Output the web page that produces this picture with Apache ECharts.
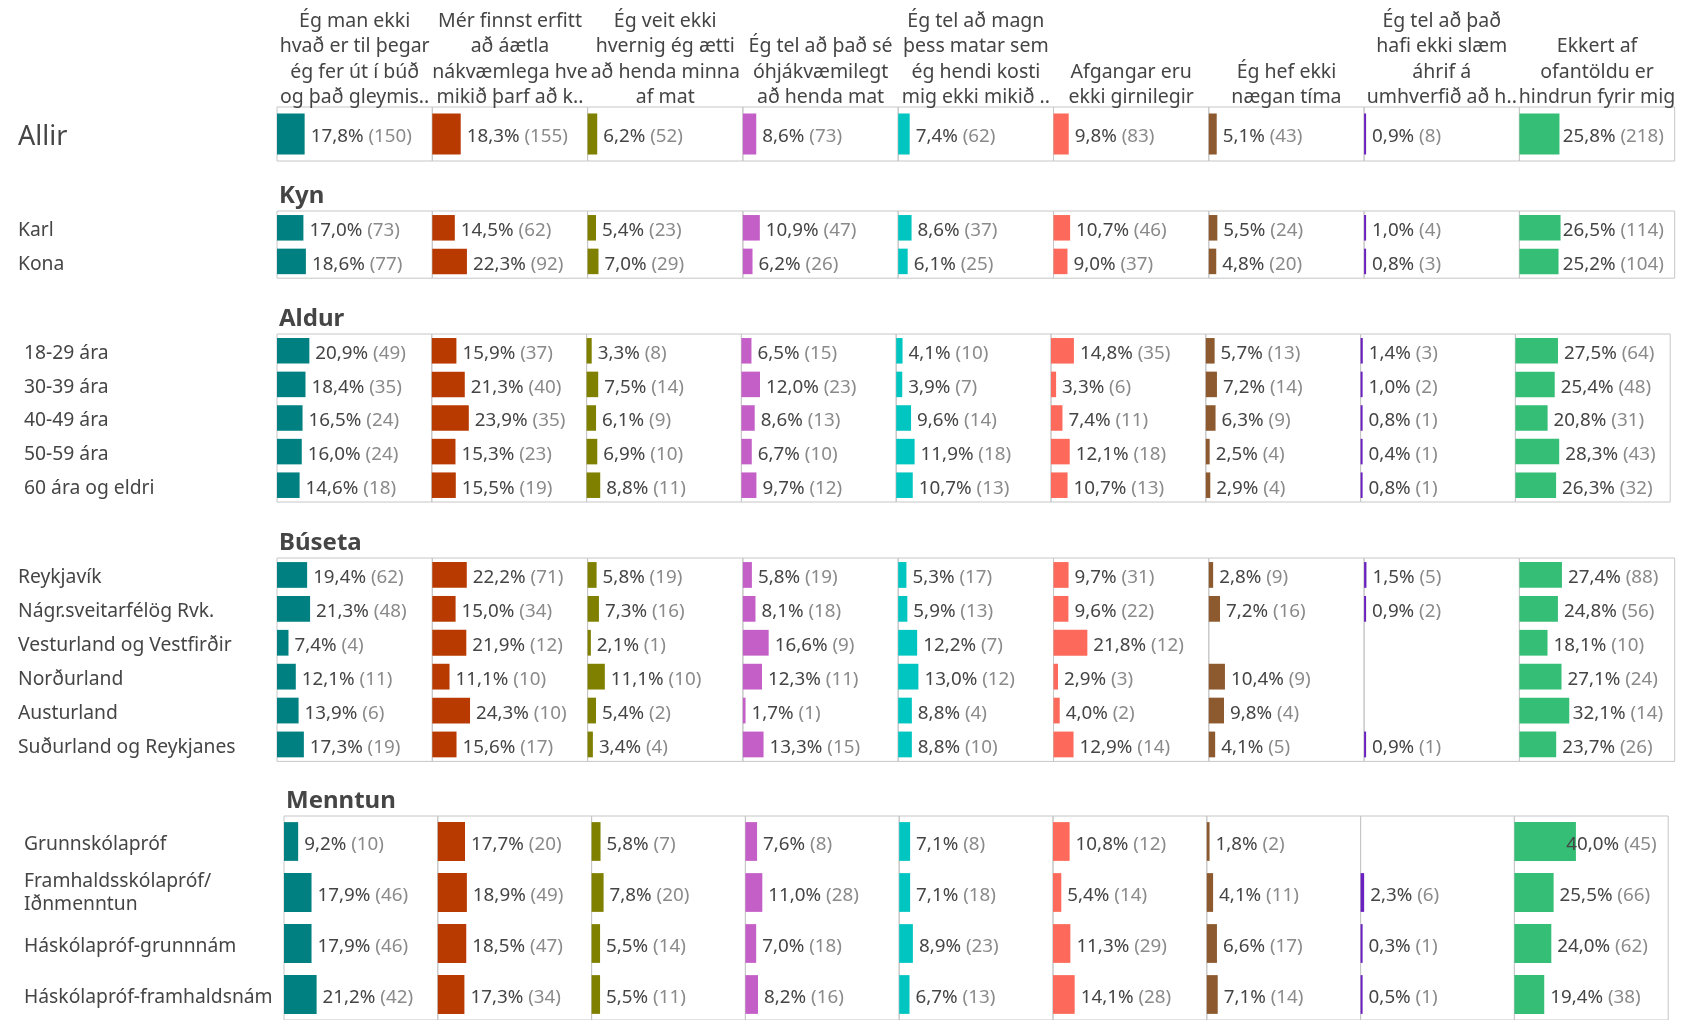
<!DOCTYPE html>
<html>
<head>
<meta charset="utf-8">
<script src="https://cdn.jsdelivr.net/npm/echarts@6/dist/echarts.min.js"></script>
<style>
  html, body { margin: 0; padding: 0; background: #fff; }
  #chart { width: 1682px; height: 1020px; }
</style>
</head>
<body>
<div id="chart"></div>
<script>
const columns = [
  "Ég man ekki\nhvað er til þegar\nég fer út í búð\nog það gleymis..",
  "Mér finnst erfitt\nað áætla\nnákvæmlega hve\nmikið þarf að k..",
  "Ég veit ekki\nhvernig ég ætti\nað henda minna\naf mat",
  "Ég tel að það sé\nóhjákvæmilegt\nað henda mat",
  "Ég tel að magn\nþess matar sem\nég hendi kosti\nmig ekki mikið ..",
  "Afgangar eru\nekki girnilegir",
  "Ég hef ekki\nnægan tíma",
  "Ég tel að það\nhafi ekki slæm\náhrif á\numhverfið að h..",
  "Ekkert af\nofantöldu er\nhindrun fyrir mig"
];
const colors = ["#008080", "#b83a00", "#808000", "#c45fc8", "#00c5c0", "#fd6a5b", "#8c5a2e", "#6a1fbf", "#35be75"];

// Allir
const allirRows = ["Allir"];
const allirPct = [[17.8, 18.3, 6.2, 8.6, 7.4, 9.8, 5.1, 0.9, 25.8]];
const allirN = [[150, 155, 52, 73, 62, 83, 43, 8, 218]];

// Kyn
const kynRows = ["Karl", "Kona"];
const kynPct = [
  [17.0, 14.5, 5.4, 10.9, 8.6, 10.7, 5.5, 1.0, 26.5],
  [18.6, 22.3, 7.0, 6.2, 6.1, 9.0, 4.8, 0.8, 25.2]
];
const kynN = [
  [73, 62, 23, 47, 37, 46, 24, 4, 114],
  [77, 92, 29, 26, 25, 37, 20, 3, 104]
];

// Aldur
const aldurRows = ["18-29 ára", "30-39 ára", "40-49 ára", "50-59 ára", "60 ára og eldri"];
const aldurPct = [
  [20.9, 15.9, 3.3, 6.5, 4.1, 14.8, 5.7, 1.4, 27.5],
  [18.4, 21.3, 7.5, 12.0, 3.9, 3.3, 7.2, 1.0, 25.4],
  [16.5, 23.9, 6.1, 8.6, 9.6, 7.4, 6.3, 0.8, 20.8],
  [16.0, 15.3, 6.9, 6.7, 11.9, 12.1, 2.5, 0.4, 28.3],
  [14.6, 15.5, 8.8, 9.7, 10.7, 10.7, 2.9, 0.8, 26.3]
];
const aldurN = [
  [49, 37, 8, 15, 10, 35, 13, 3, 64],
  [35, 40, 14, 23, 7, 6, 14, 2, 48],
  [24, 35, 9, 13, 14, 11, 9, 1, 31],
  [24, 23, 10, 10, 18, 18, 4, 1, 43],
  [18, 19, 11, 12, 13, 13, 4, 1, 32]
];

// Búseta
const busetaRows = ["Reykjavík", "Nágr.sveitarfélög Rvk.", "Vesturland og Vestfirðir", "Norðurland", "Austurland", "Suðurland og Reykjanes"];
const busetaPct = [
  [19.4, 22.2, 5.8, 5.8, 5.3, 9.7, 2.8, 1.5, 27.4],
  [21.3, 15.0, 7.3, 8.1, 5.9, 9.6, 7.2, 0.9, 24.8],
  [7.4, 21.9, 2.1, 16.6, 12.2, 21.8, null, null, 18.1],
  [12.1, 11.1, 11.1, 12.3, 13.0, 2.9, 10.4, null, 27.1],
  [13.9, 24.3, 5.4, 1.7, 8.8, 4.0, 9.8, null, 32.1],
  [17.3, 15.6, 3.4, 13.3, 8.8, 12.9, 4.1, 0.9, 23.7]
];
const busetaN = [
  [62, 71, 19, 19, 17, 31, 9, 5, 88],
  [48, 34, 16, 18, 13, 22, 16, 2, 56],
  [4, 12, 1, 9, 7, 12, null, null, 10],
  [11, 10, 10, 11, 12, 3, 9, null, 24],
  [6, 10, 2, 1, 4, 2, 4, null, 14],
  [19, 17, 4, 15, 10, 14, 5, 1, 26]
];

// Menntun
const menntunRows = ["Grunnskólapróf", "Framhaldsskólapróf/\nIðnmenntun", "Háskólapróf-grunnnám", "Háskólapróf-framhaldsnám"];
const menntunPct = [
  [9.2, 17.7, 5.8, 7.6, 7.1, 10.8, 1.8, null, 40.0],
  [17.9, 18.9, 7.8, 11.0, 7.1, 5.4, 4.1, 2.3, 25.5],
  [17.9, 18.5, 5.5, 7.0, 8.9, 11.3, 6.6, 0.3, 24.0],
  [21.2, 17.3, 5.5, 8.2, 6.7, 14.1, 7.1, 0.5, 19.4]
];
const menntunN = [
  [10, 20, 7, 8, 8, 12, 2, null, 45],
  [46, 49, 20, 28, 18, 14, 11, 6, 66],
  [46, 47, 14, 18, 23, 29, 17, 1, 62],
  [42, 34, 11, 16, 13, 28, 14, 1, 38]
];

// layout of each block
const sections = [
  { title: null, rows: allirRows, pct: allirPct, n: allirN, left: 277, top: 107, rowH: 54, cellW: 155.3, labelX: 18, labelSize: 27 },
  { title: "Kyn", rows: kynRows, pct: kynPct, n: kynN, left: 277, top: 211, rowH: 33.6, cellW: 155.3, labelX: 18, labelSize: 19.3 },
  { title: "Aldur", rows: aldurRows, pct: aldurPct, n: aldurN, left: 277, top: 334, rowH: 33.6, cellW: 154.8, labelX: 24, labelSize: 19.3 },
  { title: "Búseta", rows: busetaRows, pct: busetaPct, n: busetaN, left: 277, top: 558, rowH: 33.9, cellW: 155.3, labelX: 18, labelSize: 19.3 },
  { title: "Menntun", rows: menntunRows, pct: menntunPct, n: menntunN, left: 284, top: 816, rowH: 51.9, cellW: 153.8, labelX: 24, labelSize: 19.3 }
];

const FONT = "'Noto Sans', sans-serif";
const LABEL_SIZE = 18.8;
const fmt = v => v.toFixed(1).replace(".", ",");

// row label: first line gets a top pad so the text sits a little lower
const rowLabel = v => {
  const lines = v.split("\n");
  const first = lines.length > 1 ? "f2" : "f1";
  return lines.map((s, i) => "{" + (i === 0 ? first : "o") + "|" + s + "}").join("\n");
};

const grid = [], xAxis = [], yAxis = [], series = [], graphic = [];

sections.forEach(sec => {
  const h = sec.rows.length * sec.rowH;
  if (sec.title) {
    graphic.push({
      type: "text", x: sec.left + 2, y: sec.top - 15,
      style: { text: sec.title, font: "bold 24px " + FONT, fill: "#454545", textVerticalAlign: "middle", verticalAlign: "middle" }
    });
  }
  const rowStyle = { color: "#454545", fontSize: sec.labelSize, fontFamily: FONT, lineHeight: 25 };
  for (let c = 0; c < 9; c++) {
    const gi = grid.length;
    grid.push({
      left: sec.left + c * sec.cellW, top: sec.top, width: sec.cellW, height: h,
      show: true, borderColor: "#c6c6c6", borderWidth: 1, backgroundColor: "transparent"
    });
    xAxis.push({ gridIndex: gi, type: "value", min: 0, max: 100, show: false });
    yAxis.push({
      gridIndex: gi, type: "category", data: sec.rows, inverse: true,
      axisLine: { show: false }, axisTick: { show: false },
      axisLabel: {
        show: c === 0, align: "left", margin: sec.left - sec.labelX,
        formatter: rowLabel,
        rich: {
          f1: Object.assign({}, rowStyle, { padding: [6, 0, 0, 0] }),
          f2: Object.assign({}, rowStyle, { padding: [10, 0, 0, 0] }),
          o: Object.assign({}, rowStyle, { lineHeight: 32 })
        }
      }
    });
    const data = sec.rows.map((r, i) => {
      const v = sec.pct[i][c];
      if (v == null) return "-";
      const txt = fmt(v) + "% (" + sec.n[i][c] + ")";
      const est = txt.length * 10;
      const barLen = v / 100 * sec.cellW;
      const room = sec.cellW - 2 - barLen - est;
      const item = { value: v };
      if (room < 6) item.label = { distance: room };
      return item;
    });
    series.push({
      type: "bar", xAxisIndex: gi, yAxisIndex: gi, data,
      barCategoryGap: "24%", barMinHeight: 2,
      itemStyle: { color: colors[c] },
      label: {
        show: true, position: "right", distance: 6, offset: [0, 3],
        formatter: p => "{p|" + fmt(p.value) + "%}{n| (" + sec.n[p.dataIndex][c] + ")}",
        rich: {
          p: { color: "#454545", fontSize: LABEL_SIZE, fontFamily: FONT },
          n: { color: "#8a8a8a", fontSize: LABEL_SIZE, fontFamily: FONT }
        }
      },
      silent: true, animation: false
    });
  }
});

// column headers above the Allir row
columns.forEach((t, c) => {
  graphic.push({
    type: "text", x: 277 + (c + 0.5) * 155.3, y: 110,
    style: {
      text: t, font: "19.5px " + FONT, fill: "#454545", lineHeight: 25.3,
      textAlign: "center", align: "center", textVerticalAlign: "bottom", verticalAlign: "bottom"
    }
  });
});

const chart = echarts.init(document.getElementById("chart"));
chart.setOption({
  backgroundColor: "#fff",
  animation: false,
  textStyle: { fontFamily: FONT },
  grid, xAxis, yAxis, series, graphic
});
</script>
</body>
</html>
